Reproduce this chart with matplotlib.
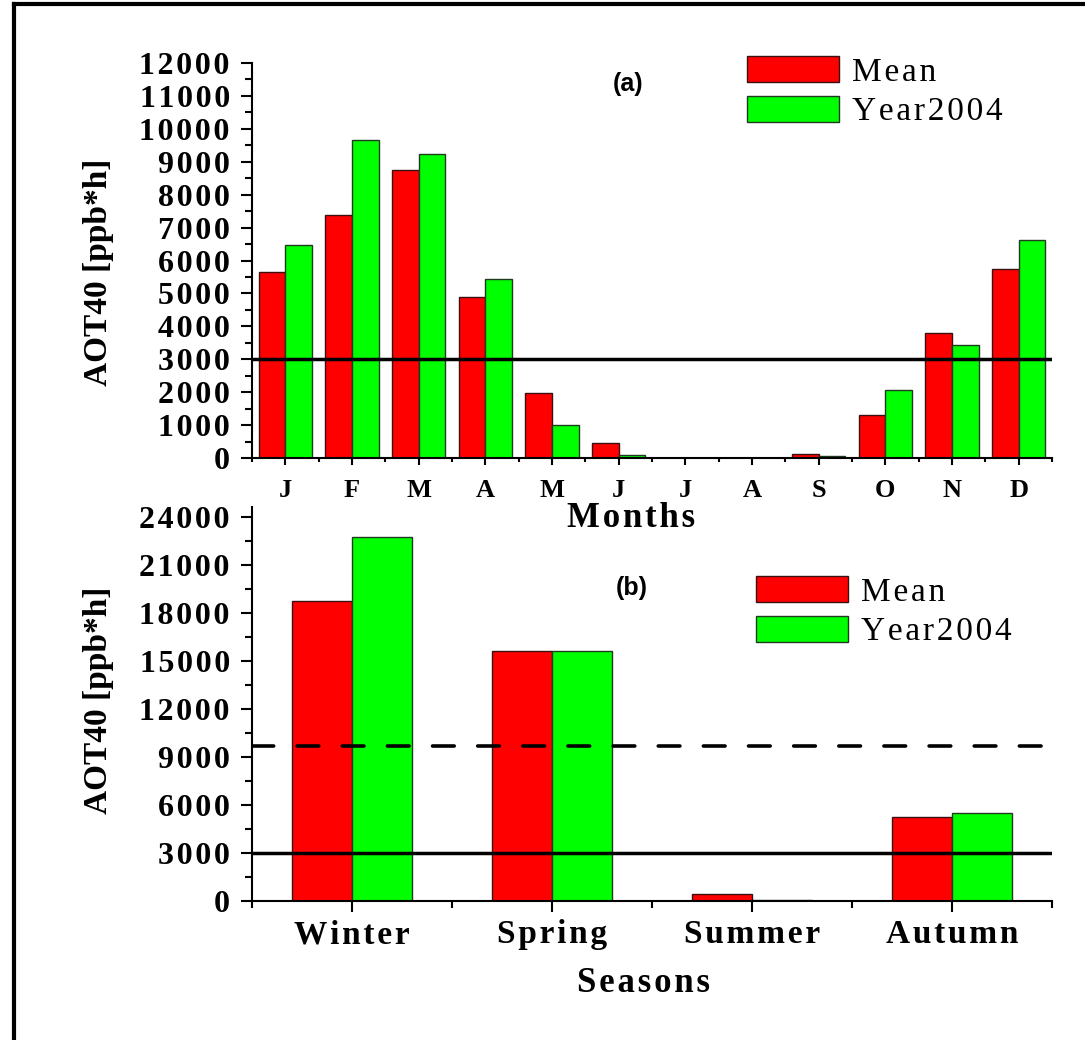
import numpy as np
import matplotlib
matplotlib.use("Agg")
import matplotlib.pyplot as plt
from matplotlib.lines import Line2D

# data
months = ['J', 'F', 'M', 'A', 'M', 'J', 'J', 'A', 'S', 'O', 'N', 'D']
month_mean = [5650, 7370, 8760, 4900, 1980, 450, 0, 0, 110, 1320, 3800, 5750]
month_2004 = [6470, 9670, 9230, 5450, 1000, 80, 0, 0, 70, 2060, 3420, 6620]

seasons = ['Winter', 'Spring', 'Summer', 'Autumn']
season_mean = [18750, 15600, 420, 5240]
season_2004 = [22750, 15650, 80, 5530]

threshold = 3000
threshold_season = 9700

RED = '#ff0000'
GREEN = '#00ff00'
SP = '\u200a'  # hair space, the original uses wide letter spacing


def spaced(s):
    return SP.join(s)


W, H = 1085, 1040
fig = plt.figure(figsize=(W / 100, H / 100), dpi=100)

serif = 'Liberation Serif'
sans = 'Liberation Sans'


def style_axis(ax):
    for s in ['top', 'right']:
        ax.spines[s].set_visible(False)
    for s in ['left', 'bottom']:
        ax.spines[s].set_linewidth(1.5)
    ax.tick_params(axis='y', which='major', direction='out', length=8, width=1.5, pad=8)
    ax.tick_params(axis='y', which='minor', direction='out', length=5, width=1.5)


def ylabels(ax, ticks):
    ax.set_yticks(ticks)
    ax.set_yticklabels([spaced(str(t)) for t in ticks], fontfamily=serif,
                       fontweight='bold', fontsize=23)


# ---- (a) monthly
ax1 = fig.add_axes([252 / W, 1 - 458 / H, 800 / W, 395 / H])
x = np.arange(1, 13)
ax1.bar(x - 0.2, month_mean, width=0.4, color=RED, edgecolor='#3a1010', lw=1, label=spaced('Mean'))
ax1.bar(x + 0.2, month_2004, width=0.4, color=GREEN, edgecolor='#1f3a1f', lw=1, label=spaced('Year2004'))
ax1.axhline(threshold, color='k', lw=2.5, zorder=5)
ax1.set_xlim(0.5, 12.5)
ax1.set_ylim(0, 12000)
style_axis(ax1)
ylabels(ax1, np.arange(0, 12001, 1000))
ax1.set_yticks(np.arange(500, 12000, 1000), minor=True)
ax1.set_xticks(x)
ax1.set_xticklabels(months, fontfamily=serif, fontweight='bold', fontsize=19)
ax1.set_xticks(np.arange(0.5, 12.6, 1), minor=True)
ax1.tick_params(axis='x', which='major', direction='out', length=5, width=1.5, pad=10)
ax1.tick_params(axis='x', which='minor', direction='out', length=3, width=1.5)

ax1.legend(loc='upper left', bbox_to_anchor=(747 / W, 1 - 56 / H),
           bbox_transform=fig.transFigure, frameon=False,
           prop={'family': serif, 'size': 24}, borderpad=0, borderaxespad=0,
           handlelength=2.75, handleheight=0.82, handletextpad=0.4, labelspacing=0.25)

fig.text(628 / W, 1 - 84 / H, '(a)', family=sans, weight='bold', fontsize=18,
         ha='center', va='center')

# ---- (b) seasonal
ax2 = fig.add_axes([252 / W, 1 - 901 / H, 800 / W, 394 / H])
xs = np.arange(1, 5)
ax2.bar(xs - 0.15, season_mean, width=0.3, color=RED, edgecolor='#3a1010', lw=1, label=spaced('Mean'))
ax2.bar(xs + 0.15, season_2004, width=0.3, color=GREEN, edgecolor='#1f3a1f', lw=1, label=spaced('Year2004'))
ax2.axhline(threshold, color='k', lw=2.5, zorder=5)
ax2.axhline(threshold_season, color='k', lw=2.6, zorder=5, ls=(0, (6, 6.5)),
            dash_capstyle='round')
ax2.set_xlim(0.5, 4.5)
ax2.set_ylim(0, 24000 + 10 / 48 * 3000)
style_axis(ax2)
ylabels(ax2, np.arange(0, 24001, 3000))
ax2.set_yticks(np.arange(1500, 24000, 3000), minor=True)
ax2.set_xticks(xs)
ax2.set_xticklabels([spaced(s) for s in seasons], fontfamily=serif, fontweight='bold', fontsize=24)
ax2.set_xticks(np.arange(0.5, 4.6, 1), minor=True)
ax2.tick_params(axis='x', which='major', direction='out', length=8, width=1.5, pad=5)
ax2.tick_params(axis='x', which='minor', direction='out', length=5, width=1.5)

ax2.legend(loc='upper left', bbox_to_anchor=(756 / W, 1 - 576 / H),
           bbox_transform=fig.transFigure, frameon=False,
           prop={'family': serif, 'size': 24}, borderpad=0, borderaxespad=0,
           handlelength=2.75, handleheight=0.82, handletextpad=0.4, labelspacing=0.25)

fig.text(632 / W, 1 - 588 / H, '(b)', family=sans, weight='bold', fontsize=18,
         ha='center', va='center')

# axis titles
for yc in [272, 700]:
    fig.text(98 / W, 1 - yc / H, 'AOT40 [ppb*h]', family=serif, weight='bold',
             fontsize=24, rotation=90, ha='center', va='center')
fig.text(631 / W, 1 - 527 / H, spaced('Months'), family=serif, weight='bold',
         fontsize=25, ha='center', va='baseline')
fig.text(643 / W, 1 - 992 / H, spaced('Seasons'), family=serif, weight='bold',
         fontsize=25, ha='center', va='baseline')

# outer frame, cut at the right and bottom like the original
fx, fy = 14.3 / W, 1 - 4.2 / H
fig.add_artist(Line2D([fx, fx], [-0.01, fy], transform=fig.transFigure, color='k', lw=3))
fig.add_artist(Line2D([fx, 1.01], [fy, fy], transform=fig.transFigure, color='k', lw=3,
                      solid_capstyle='projecting'))

fig.savefig('out.png', dpi=100)
